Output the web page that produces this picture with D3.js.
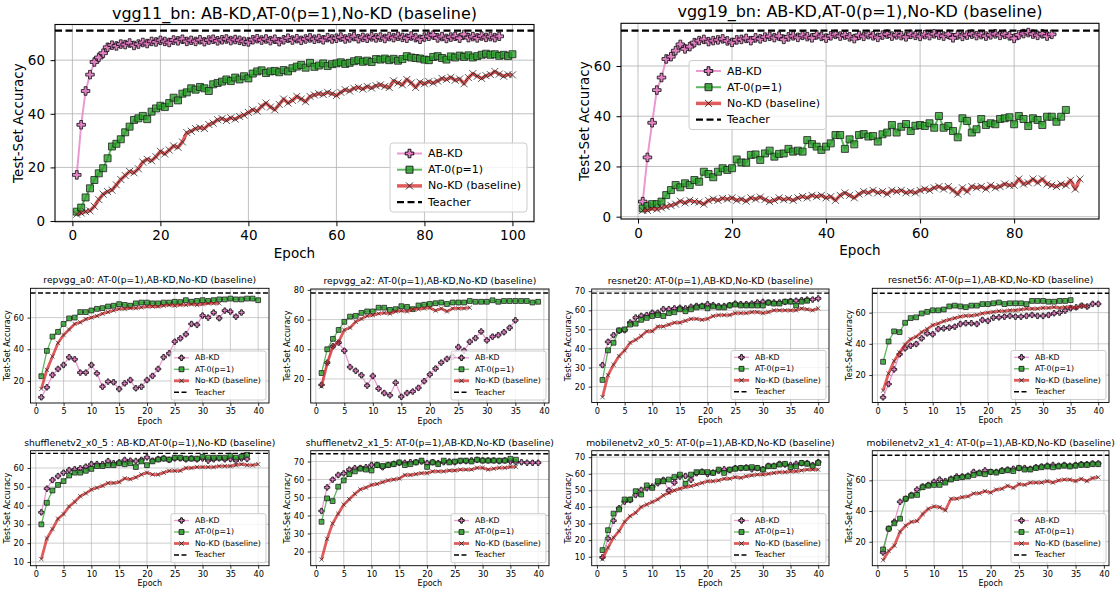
<!DOCTYPE html>
<html>
<head>
<meta charset="utf-8">
<script src="https://cdn.jsdelivr.net/npm/d3@7"></script>
<style>
  body { margin: 0; background: #fff; }
  svg { display: block; font-family: "DejaVu Sans", sans-serif; }
</style>
</head>
<body>
<div id="chart"></div>
<script>
// ---- data (test-set accuracy per epoch) ----
var seriesNames = ["AB-KD", "AT-0(p=1)", "No-KD (baseline)", "Teacher"];

var vgg11AB = [17.2,35.9,48.5,54.6,59.3,61.0,62.6,64.8,65.6,65.3, 66.0,65.8,66.4,65.5,66.0,66.6,66.2,67.0,66.8,67.4,
  67.0,66.6,67.5,67.2,67.8,67.0,67.4,67.0,67.6,66.9, 67.5,67.8,67.2,67.6,67.9,67.3,67.7,67.4,67.0,66.8,
  67.6,68.0,67.5,67.9,67.3,67.8,66.9,67.6,68.2,67.5, 68.0,67.4,67.9,68.3,67.8,68.1,67.6,68.4,67.9,68.2,
  68.6,67.9,68.3,68.8,68.0,68.5,68.2,68.7,68.3,68.6, 68.1,68.8,68.4,68.9,68.5,68.2,69.0,68.4,67.8,68.6,
  68.9,69.4,68.3,68.8,68.1,68.6,68.9,68.2,69.6,68.4, 68.8,68.3,69.0,68.5,68.8,68.4,68.9];
var vgg11AT = [3.5,5.0,8.8,12.2,15.3,17.8,19.7,23.4,27.8,28.8, 30.5,33.1,35.2,37.7,38.3,39.2,38.0,40.8,42.0,43.0,
  42.5,44.0,46.0,45.0,47.5,48.0,49.5,49.0,50.0,49.5, 48.5,51.0,51.5,52.0,52.8,52.2,53.5,52.8,54.0,53.2,
  55.0,55.8,56.2,55.2,55.8,56.0,55.5,56.3,55.8,57.0, 57.6,58.2,57.2,59.0,57.5,58.0,58.8,57.8,58.5,58.8,
  59.2,58.6,59.0,59.6,60.0,59.4,59.8,59.3,60.4,60.2, 60.6,60.0,60.5,59.8,60.4,61.5,61.0,60.8,60.6,60.2,
  60.0,61.2,61.5,60.8,60.2,61.4,61.0,61.7,61.2,61.8, 61.0,61.5,62.0,62.4,62.0,62.2,61.6,62.0,61.5,62.2];
var vgg11NoKD = [2.5,3.0,3.5,3.8,5.5,8.0,10.0,11.0,11.5,13.5, 15.5,17.0,18.5,18.0,19.5,22.0,23.0,22.5,24.0,26.0,
  25.0,26.5,28.0,27.5,29.5,33.0,33.5,34.5,34.8,34.5, 36.0,36.5,37.8,38.2,37.5,38.5,38.0,39.0,39.5,40.5,
  41.5,41.0,42.8,44.0,42.5,41.5,43.5,45.5,44.0,45.0, 46.5,45.5,44.5,46.5,47.0,47.5,47.2,48.0,47.5,46.8,
  48.0,49.0,48.5,49.5,49.8,49.2,50.2,49.6,50.5,50.8, 50.2,49.8,52.3,51.5,50.8,52.8,51.5,49.8,51.8,51.2,
  52.0,51.5,52.2,53.2,52.8,53.6,52.5,53.0,51.2,53.5, 55.0,54.0,53.2,54.2,54.6,55.8,54.8,54.0,54.6,54.5];
var vgg11Teacher = 71.0;

var vgg19AB = [6.0,23.6,37.4,50.4,55.4,62.8,63.7,66.1,68.6,66.8, 67.7,69.3,70.1,70.6,69.7,70.1,70.4,70.8,70.0,69.4,
  70.4,70.6,71.0,70.1,71.2,70.8,71.5,71.8,71.3,71.9, 70.6,71.6,72.0,71.4,72.2,71.7,71.2,72.4,71.8,71.1,
  72.0,72.6,71.9,72.3,71.6,70.9,72.2,71.8,72.5,72.0, 71.4,72.3,72.7,71.9,72.4,72.1,71.6,72.6,72.2,71.8,
  72.5,72.1,72.8,72.3,71.9,72.6,71.2,72.4,71.8,72.3, 72.7,72.1,72.5,71.9,72.4,72.8,72.2,72.6,72.0,71.0,
  72.4,72.9,73.3,72.7,72.2,72.8,71.9,72.6];
var vgg19AT = [3.3,4.2,5.0,5.0,6.0,8.6,10.6,12.6,11.7,13.3, 12.6,14.6,13.9,17.9,17.0,15.7,17.9,19.3,18.6,19.3,
  22.8,21.6,21.5,24.6,24.8,22.6,25.2,26.3,23.9,25.0, 25.2,27.0,25.9,26.3,25.9,30.5,28.9,27.9,26.6,27.9,
  29.2,32.5,32.5,27.0,30.8,28.8,32.5,32.9,31.9,32.1, 29.9,32.8,33.5,36.5,33.5,35.8,36.9,34.1,36.2,36.5,
  36.1,37.2,35.4,40.1,35.4,36.1,34.1,31.6,39.2,38.1, 33.5,34.8,38.9,36.5,37.2,36.8,38.9,39.2,39.6,36.8,
  40.1,38.9,36.1,39.2,38.5,36.5,39.8,39.8,37.8,39.8, 42.5];
var vgg19NoKD = [2.5,2.5,3.2,3.0,3.5,4.0,4.5,5.0,6.2,5.5, 6.5,6.0,5.8,5.0,6.5,7.0,6.5,7.3,7.0,7.5,
  6.5,7.0,6.2,7.5,7.0,7.8,6.8,6.0,6.5,7.5, 6.8,7.2,6.5,7.5,8.0,7.5,8.5,8.0,8.5,7.5,
  8.0,6.5,8.5,9.5,8.5,7.5,9.0,10.0,9.5,10.5, 9.5,10.0,9.0,10.5,10.0,10.5,9.5,10.0,9.5,10.5,
  11.0,10.5,11.5,12.0,11.0,12.0,10.5,9.0,11.5,10.0, 12.0,11.5,12.0,11.0,12.5,11.5,12.0,13.0,12.5,12.5,
  15.0,13.0,13.5,15.0,13.5,15.0,13.0,12.5,12.0,13.0, 12.5,14.5,11.0,15.0];
var vgg19Teacher = 74.1;

var a0AB = [9.7,16,23.8,27.6,30.1,35,33.7,25.3,25.3,30.1, 24.8,16.4,19.6,19.2,14.9,18.5,20.6,15.4,16.4,20.6,
  23.2,27.6,35,37.5,44.8,46.9,49.5,56,55.4,61.3, 60,63.2,59.6,64.4,63.8,60.6,63.2];
var a0AT = [23,39,48,51,56,59.5,60,63.5,63.5,64.5, 65.5,66,67,67.5,68.5,68,67.5,69,69.5,69.5,
  69,69,69.5,69.5,70,69.8,71,70,70.5,71, 70.5,71,71.5,71.5,72,71.5,71.5,72,72,71];
var a0NoKD = [15,27,35.5,44,49,52.5,56,57,59,60, 61,62.5,63.5,64.5,65.5,65.5,66,66,66.5,67,
  67,67,67.5,68,67.5,68,68,68.5,68,68.5, 69,69,69];
var a0Teacher = 75.5;

var a2AB = [16,31,42,44.5,39,28,25.5,22.5,15.5,22, 13.5,10.5,9,17.5,8,10.5,11.5,14,18.5,23,
  27,31,33.5,35,41.5,39,45,47.5,52,46, 48.5,49.5,51.5,54.5,59.5];
var a2AT = [24,40,47,53,58.5,62,62.5,64.5,65.5,65.5, 68,68,66.5,67,69,68.5,67,69.5,70,70.5,
  71,71.5,70.5,71.5,71.5,71.5,72.5,72,72,72, 73,72,72.5,72.5,72.5,72.5,72.5,71.5,72];
var a2NoKD = [15,30.5,42,45,53,54.5,58.5,60.5,62.5,63, 64,64.5,64,65.5,66,65.5,67,67,67.5,68,
  66,67.5,65.5,67.5,67.5,67.5,68];
var a2Teacher = 77.9;

var r20AB = [31.3,43.5,47,49.3,49.6,53.6,56.2,57.1,57.5,58.7, 58.7,60.6,60.6,61,61.3,61,61.8,62.3,62.3,63.2,
  62.7,62.2,62.2,62.7,63.5,63.2,63.2,63.5,64.1,64.4, 64.1,64.1,64.1,64.4,64.8,65,65.3,65.6,65.6,66.2];
var r20AT = [23.5,39,43,49.5,50,52.5,53,55,56,57, 57.5,57,58.5,59,60.5,59.5,60.5,61.5,62,61,
  62,61.5,61.5,62.5,63,62.5,62.5,62.5,62.5,62.5, 64,63.5,63.5,64.5,64.5,62.5,64.5,65];
var r20NoKD = [14.5,26,31.5,36,39,43,44.5,46.5,49,49, 51.5,51.5,52.5,53.5,53.5,54.5,55.5,55.5,55,55.5,
  57,57.5,57.5,57.5,58.5,58.5,58.5,59,59,58.5, 59,60,60,60,60,60,61,60.5,60,61];
var r20Teacher = 69.0;

var r56AB = [5.7,14.2,23.6,33.3,37.1,38.8,39.9,43.5,46.7,46.1, 49.5,49.9,50.4,51,52.7,53.2,53.2,52.7,55.3,54.7,
  56.8,57,57.4,57.9,57.4,57.4,57.9,58.5,57.9,57.9, 58.5,59.6,60,61.3,62.8,63.4,64.5,63.9,65.6,65.6];
var r56AT = [28.5,41.5,48,47.5,53.5,56.5,57,59.5,60.5,61.5, 61.5,62,64,64.5,64,63.5,64.5,64.5,65.5,65.5,
  66,66.5,65.5,66,66,66,65.5,67.5,67.5,67.5, 67,67,67.5,67.5,68];
var r56NoKD = [10,21,29,34.5,39.5,43,44.5,47.5,49.5,52, 53,54.5,55.5,56.5,57.5,58,58,58.5,59.5,60,
  60.5,61,61,61.5,61.5,62,62.5,62.5,62.5,63, 63,63.5,63,63.5,63.5,63,64.5,64];
var r56Teacher = 72.4;

var s05AB = [36.4,49,53.6,55.7,57.5,58.9,59.3,59.8,60.7,62.1, 62.1,62,63.7,62.5,63,64.3,63.9,63.7,64.3,65.7,
  63.9,64.8,65.1,64.3,65.1,65.1,64.6,65.1,64.6,65.1, 63.9,64.6,65.1,64.6,64.8,63.9,65.1,64.8];
var s05AT = [30,41.5,48,51,53,56,57.5,57.5,58.5,59.5, 61,61,61.5,61.5,62.5,62,62.5,60.5,63.5,61.5,
  63.5,64.5,65,64.5,65.5,65.5,65,65,65,66, 65.5,65.5,65.5,65.5,66.5,65.5,66,67];
var s05NoKD = [11.5,22.5,27.5,33,35.5,39.5,42,45,46.5,48.5, 49.5,50.5,52,52,52.5,54.5,54,55,56.5,57.5,
  56.5,56.5,57.5,58.5,58.5,58.5,60,60,60.5,60.5, 60.5,60.5,61,61,61,61.5,62,61.5,61.5,62];
var s05Teacher = 67.8;

var s15AB = [42.5,55.6,59.9,62.5,63.4,65.5,66.3,66.4,66.8,68.1, 68.1,66.8,68.1,68.7,69.3,69.3,69.6,69.6,70,69.1,
  69.6,69.1,69.6,70,69.6,70.2,70.2,70.6,70.9,70.6, 70.6,70.6,70.2,70.6,70,69.6,69.6,69.3,69.3,69.3];
var s15AT = [36.5,49.5,48,56,59.5,63,64.5,66,65.5,65, 68,67.5,68,68.5,69.5,68,68.5,69.5,70.5,67,
  69.5,68.5,70.5,69.5,70,70.5,70.5,70,71,70.5, 70.5,70.5,70.5,70.5,71.5,71];
var s15NoKD = [15.5,27,35.5,41,46,49,52,54.5,55.5,57, 57.5,58.5,59.5,60,60.5,62.5,62.5,63,63.5,63.5,
  64.5,64.5,64.5,65,65,65.5,65.5,65.5,66.5,66.5, 65.5,66,66.5,66.5,67,67];
var s15Teacher = 74.3;

var m05AB = [9.6,21,31.7,39.2,43.2,44.2,47.2,50.3,51.3,52.3, 54.3,56.3,49.9,54.7,58.3,58.7,56.3,60.3,61.3,59.9,
  60.7,61.9,62.7,62.3,63.4,63.4,63.8,62.7,63.4,62.7, 64.8,64.8,66,65.6,65.2,66,66.4,66.4,65.2,67];
var m05AT = [14,26,36,38.5,44.5,44.5,49.5,47.5,53,51.5, 55.5,55.5,56.5,58,59.5,54,59.5,61,61,61,
  60.5,62.5,60.5,62.5,63,63.5,63.5,64,63.5,62.5, 64.5,64.5,65.5,66,64,64.5,66.5,66,64.5,66.5];
var m05NoKD = [8.5,15.5,21.5,25.5,31,34.5,36.5,40,41.5,43, 44.5,47,48.5,50,51,52,52.5,53.5,54.5,55.5,
  55.5,56,57,57,58,57.5,58.5,59,59.5,59.5, 60,60.5,61,61,61.5,61.5,62,62.5,62.5,62.5];
var m05Teacher = 71.3;

var m14AB = [13,28.5,33,46,48,50.5,54,56,57,59, 60.5,59.5,61,62.5,62.5,63,65.5,65,66.5,65.5,
  65.5,66.5,67,67.5,68,68,67.5,68.5,69,69.5, 70,69.5,70,69.5,70,70.5,70.5,71,71];
var m14AT = [15,28.5,32,35,48,50,50.5,55.5,56.5,57, 57,58.5,60.5,61.5,62,62.5,63.5,64.5,64,65.5,
  65,66,66.5,66,68,67,67,68,68.5,69, 68.5,69,69.5,69,69.5,70,70,70.5,70.5];
var m14NoKD = [8,14,17.5,26.5,30.5,33,33.5,38,41.5,43, 42.5,40.5,48,48,49,49.5,51.5,51.5,53,52,
  54,54.5,56.5,55,57.5,57,58.5,58.5,58.5,59.5, 58.5,60,60.5,60.5,59.5,61,59.5,61.5,62];
var m14Teacher = 76.3;

// tick labels
var xTicks100 = [0, 20, 40, 60, 80, 100];
var xTicks80 = [0, 20, 40, 60, 80];
var xTicks40 = [0, 5, 10, 15, 20, 25, 30, 35, 40];
var yTicks0to60 = [0, 20, 40, 60];
var yTicks20to60 = [20, 40, 60];
var yTicks20to80 = [20, 40, 60, 80];
var yTicks20to70 = [20, 30, 40, 50, 60, 70];
var yTicks10to60 = [10, 20, 30, 40, 50, 60];
var yTicks10to70 = [10, 20, 30, 40, 50, 60, 70];

// ---- layout ----
var width = 1115, height = 590;

var svg = d3.select("#chart")
  .append("svg")
    .attr("width", width)
    .attr("height", height);

var colAB = "#e377c2", colAT = "#2ca02c", colNo = "#d62728";

var bigStyle = { tickFont: 13.5, labelFont: 13.5, titleFont: 16, legendFont: 11, tick: 4.5, pad: 4.5,
  mAB: 8.5, mAT: 7, mNo: 7, wAB: 2, wAT: 2, wNo: 3.5, wTeacher: 2.2, dash: "7,3.5", edge: 0.9,
  ylabOff: 37, xlabOff: 36, titleOff: 6, legW: 137, legH: 69, legRow: 16.2, legFirst: 10.5,
  legH0: 7, legH1: 32, legText: 38 };
var smallStyle = { tickFont: 8.2, labelFont: 8, titleFont: 9.2, legendFont: 7.8, tick: 3, pad: 2.5,
  mAB: 5.4, mAT: 4.8, mNo: 4.4, wAB: 1.3, wAT: 1.3, wNo: 2.8, wTeacher: 1.4, dash: "5,2.5", edge: 0.9,
  ylabOff: 23, xlabOff: 20.5, titleOff: 5, legW: 95, legH: 49, legRow: 11.5, legFirst: 6.8,
  legH0: 3, legH1: 18, legText: 24 };

var panels = [
  { title: "vgg11_bn: AB-KD,AT-0(p=1),No-KD (baseline)", ab: vgg11AB, at: vgg11AT, no: vgg11NoKD, teacher: vgg11Teacher,
    box: [55, 24.5, 534, 221.7], xDomain: [-3.95, 104.9], yDomain: [-0.25, 73.3], xTicks: xTicks100, yTicks: yTicks0to60,
    style: bigStyle, legend: [390, 143] },
  { title: "vgg19_bn: AB-KD,AT-0(p=1),No-KD (baseline)", ab: vgg19AB, at: vgg19AT, no: vgg19NoKD, teacher: vgg19Teacher,
    box: [621, 23.3, 1099, 219], xDomain: [-3.62, 98.05], yDomain: [-0.92, 77.0], xTicks: xTicks80, yTicks: yTicks0to60,
    style: bigStyle, legend: [689, 60.5] },
  { title: "repvgg_a0: AT-0(p=1),AB-KD,No-KD (baseline)", ab: a0AB, at: a0AT, no: a0NoKD, teacher: a0Teacher,
    box: [30.5, 288.3, 269, 403], xDomain: [-0.95, 41.95], yDomain: [6.1, 78.5], xTicks: xTicks40, yTicks: yTicks20to60, style: smallStyle },
  { title: "repvgg_a2: AT-0(p=1),AB-KD,No-KD (baseline)", ab: a2AB, at: a2AT, no: a2NoKD, teacher: a2Teacher,
    box: [310.7, 289, 549, 403], xDomain: [-0.9, 40.9], yDomain: [3.8, 80.6], xTicks: xTicks40, yTicks: yTicks20to80, style: smallStyle },
  { title: "resnet20: AT-0(p=1),AB-KD,No-KD (baseline)", ab: r20AB, at: r20AT, no: r20NoKD, teacher: r20Teacher,
    box: [591.7, 289, 829, 402.5], xDomain: [-0.95, 41.95], yDomain: [11.7, 71.15], xTicks: xTicks40, yTicks: yTicks20to70, style: smallStyle },
  { title: "resnet56: AT-0(p=1),AB-KD,No-KD (baseline)", ab: r56AB, at: r56AT, no: r56NoKD, teacher: r56Teacher,
    box: [872.3, 288.3, 1109, 402.5], xDomain: [-0.95, 41.95], yDomain: [2.4, 75.6], xTicks: xTicks40, yTicks: yTicks20to60, style: smallStyle },
  { title: "shufflenetv2_x0_5 : AB-KD,AT-0(p=1),No-KD (baseline)", ab: s05AB, at: s05AT, no: s05NoKD, teacher: s05Teacher,
    box: [30.5, 450.7, 269, 565.7], xDomain: [-0.95, 41.95], yDomain: [8.0, 69.2], xTicks: xTicks40, yTicks: yTicks10to60, style: smallStyle },
  { title: "shufflenetv2_x1_5: AT-0(p=1),AB-KD,No-KD (baseline)", ab: s15AB, at: s15AT, no: s15NoKD, teacher: s15Teacher,
    box: [310.7, 450.7, 549, 565.7], xDomain: [-0.95, 41.95], yDomain: [12.1, 76.0], xTicks: xTicks40, yTicks: yTicks20to70, style: smallStyle },
  { title: "mobilenetv2_x0_5: AT-0(p=1),AB-KD,No-KD (baseline)", ab: m05AB, at: m05AT, no: m05NoKD, teacher: m05Teacher,
    box: [591.7, 450.7, 829, 565.7], xDomain: [-0.95, 41.95], yDomain: [4.6, 73.9], xTicks: xTicks40, yTicks: yTicks10to70, style: smallStyle },
  { title: "mobilenetv2_x1_4: AT-0(p=1),AB-KD,No-KD (baseline)", ab: m14AB, at: m14AT, no: m14NoKD, teacher: m14Teacher,
    box: [872.3, 450.7, 1109, 565.7], xDomain: [-0.9, 40.9], yDomain: [4.4, 79.3], xTicks: xTicks40, yTicks: yTicks20to60, style: smallStyle }
];

// marker shapes (centered at 0,0, s = full width)
function plusPath(s) {
  var a = s / 2, b = s / 6;
  return "M" + (-b) + "," + (-a) + "H" + b + "V" + (-b) + "H" + a + "V" + b + "H" + b + "V" + a +
         "H" + (-b) + "V" + b + "H" + (-a) + "V" + (-b) + "H" + (-b) + "Z";
}
function squarePath(s) {
  var a = s / 2;
  return "M" + (-a) + "," + (-a) + "h" + s + "v" + s + "h" + (-s) + "Z";
}
function crossPath(s) {
  var a = s / 2;
  return "M" + (-a) + "," + (-a) + "L" + a + "," + a + "M" + (-a) + "," + a + "L" + a + "," + (-a);
}

function drawSeries(g, data, x, y, opt) {
  var line = d3.line()
    .x(function(d, i) { return x(i + 1); })
    .y(function(d) { return y(d); });

  g.append("path")
    .datum(data)
    .attr("d", line)
    .attr("fill", "none")
    .attr("stroke", opt.color)
    .attr("stroke-opacity", 0.75)
    .attr("stroke-width", opt.width)
    .attr("stroke-linejoin", "round");

  g.selectAll(null)
    .data(data)
    .enter()
    .append("path")
      .attr("transform", function(d, i) { return "translate(" + x(i + 1) + "," + y(d) + ")"; })
      .attr("d", opt.shape(opt.size))
      .attr("fill", opt.fill)
      .attr("fill-opacity", opt.fillOpacity)
      .attr("stroke", opt.edge)
      .attr("stroke-opacity", 0.85)
      .attr("stroke-width", opt.edgeWidth);
}

function drawPanel(p, idx) {
  var st = p.style, b = p.box;
  var big = st === bigStyle;
  var x = d3.scaleLinear().domain(p.xDomain).range([b[0], b[2]]);
  var y = d3.scaleLinear().domain(p.yDomain).range([b[3], b[1]]);
  var g = svg.append("g");

  g.append("clipPath").attr("id", "clip" + idx)
    .append("rect").attr("x", b[0]).attr("y", b[1]).attr("width", b[2] - b[0]).attr("height", b[3] - b[1]);

  // grid
  var grid = g.append("g").attr("stroke", "#b0b0b0").attr("stroke-width", big ? 1 : 0.8).attr("stroke-opacity", 0.8);
  grid.selectAll(null).data(p.xTicks).enter().append("line")
    .attr("x1", function(d) { return x(d); }).attr("x2", function(d) { return x(d); })
    .attr("y1", b[1]).attr("y2", b[3]);
  grid.selectAll(null).data(p.yTicks).enter().append("line")
    .attr("y1", function(d) { return y(d); }).attr("y2", function(d) { return y(d); })
    .attr("x1", b[0]).attr("x2", b[2]);

  // axes
  var xAxis = g.append("g")
    .attr("transform", "translate(0," + b[3] + ")")
    .call(d3.axisBottom(x).tickValues(p.xTicks).tickFormat(d3.format("d"))
      .tickSize(st.tick).tickSizeOuter(0).tickPadding(st.pad));
  var yAxis = g.append("g")
    .attr("transform", "translate(" + b[0] + ",0)")
    .call(d3.axisLeft(y).tickValues(p.yTicks).tickFormat(d3.format("d"))
      .tickSize(st.tick).tickSizeOuter(0).tickPadding(st.pad + 1));
  [xAxis, yAxis].forEach(function(a) {
    a.attr("font-family", "DejaVu Sans").attr("font-size", st.tickFont);
    a.select(".domain").remove();
    a.selectAll("line").attr("stroke", "#000").attr("stroke-width", big ? 1 : 0.8);
    a.selectAll("text").attr("fill", "#000");
  });

  // series
  var plot = g.append("g").attr("clip-path", "url(#clip" + idx + ")");
  drawSeries(plot, p.ab, x, y, { color: colAB, width: st.wAB, shape: plusPath, size: st.mAB,
    fill: colAB, fillOpacity: 0.85, edge: "#000", edgeWidth: st.edge });
  drawSeries(plot, p.at, x, y, { color: colAT, width: st.wAT, shape: squarePath, size: st.mAT,
    fill: colAT, fillOpacity: 0.8, edge: "#1a1a1a", edgeWidth: st.edge });
  drawSeries(plot, p.no, x, y, { color: colNo, width: st.wNo, shape: crossPath, size: st.mNo,
    fill: "none", fillOpacity: 1, edge: "#222", edgeWidth: big ? 0.9 : 0.75 });

  plot.append("line")
    .attr("x1", b[0]).attr("x2", b[2])
    .attr("y1", y(p.teacher)).attr("y2", y(p.teacher))
    .attr("stroke", "#000").attr("stroke-width", st.wTeacher)
    .attr("stroke-dasharray", st.dash);

  // frame
  g.append("rect")
    .attr("x", b[0]).attr("y", b[1]).attr("width", b[2] - b[0]).attr("height", b[3] - b[1])
    .attr("fill", "none").attr("stroke", "#000").attr("stroke-width", big ? 1.1 : 0.9);

  // texts
  g.append("text")
    .attr("x", (b[0] + b[2]) / 2).attr("y", b[1] - st.titleOff)
    .attr("text-anchor", "middle").attr("font-size", st.titleFont)
    .text(p.title);
  g.append("text")
    .attr("x", (b[0] + b[2]) / 2).attr("y", b[3] + st.xlabOff)
    .attr("text-anchor", "middle").attr("font-size", st.labelFont)
    .text("Epoch");
  g.append("text")
    .attr("transform", "translate(" + (b[0] - st.ylabOff) + "," + ((b[1] + b[3]) / 2) + ") rotate(-90)")
    .attr("text-anchor", "middle").attr("dominant-baseline", "central").attr("font-size", st.labelFont)
    .text("Test-Set Accuracy");

  // legend
  var lx = p.legend ? p.legend[0] : b[2] - 3 - st.legW;
  var ly = p.legend ? p.legend[1] : b[3] - 3 - st.legH;
  var leg = g.append("g").attr("transform", "translate(" + lx + "," + ly + ")");
  leg.append("rect")
    .attr("width", st.legW).attr("height", st.legH).attr("rx", big ? 3 : 2)
    .attr("fill", "#fff").attr("fill-opacity", 0.8)
    .attr("stroke", "#cccccc").attr("stroke-width", 1);

  var entries = [
    { color: colAB, width: st.wAB, shape: plusPath, size: st.mAB, fill: colAB, edge: "#000" },
    { color: colAT, width: st.wAT, shape: squarePath, size: st.mAT, fill: colAT, edge: "#1a1a1a" },
    { color: colNo, width: st.wNo, shape: crossPath, size: st.mNo, fill: "none", edge: "#222" },
    { color: "#000", width: st.wTeacher, dash: st.dash }
  ];
  entries.forEach(function(e, i) {
    var ry = st.legFirst + i * st.legRow;
    leg.append("line")
      .attr("x1", st.legH0).attr("x2", st.legH1).attr("y1", ry).attr("y2", ry)
      .attr("stroke", e.color).attr("stroke-opacity", e.dash ? 1 : 0.75)
      .attr("stroke-width", e.width).attr("stroke-dasharray", e.dash || null);
    if (e.shape) {
      leg.append("path")
        .attr("transform", "translate(" + ((st.legH0 + st.legH1) / 2) + "," + ry + ")")
        .attr("d", e.shape(e.size))
        .attr("fill", e.fill).attr("fill-opacity", 0.85)
        .attr("stroke", e.edge).attr("stroke-width", st.edge);
    }
    leg.append("text")
      .attr("x", st.legText).attr("y", ry)
      .attr("dominant-baseline", "central")
      .attr("font-size", st.legendFont)
      .text(seriesNames[i]);
  });
}

panels.forEach(drawPanel);
</script>
</body>
</html>
